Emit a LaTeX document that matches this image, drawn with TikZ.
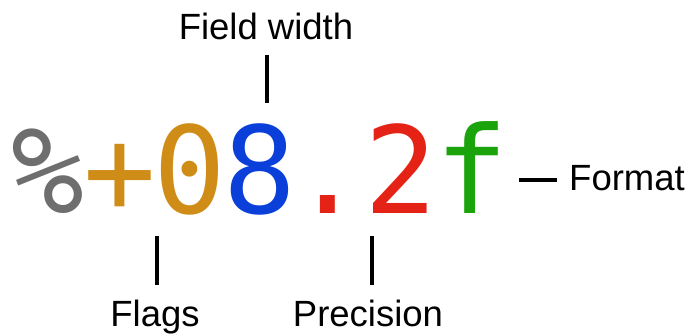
\documentclass[tikz,border=0pt]{standalone}
\usepackage{fontspec}
\setmainfont{Liberation Sans}
\newfontfamily\codefont{DejaVu Sans Mono}
\definecolor{cgray}{HTML}{6E6E6E}
\definecolor{corange}{HTML}{CF8C17}
\definecolor{cblue}{HTML}{0A3FD9}
\definecolor{cred}{HTML}{E52216}
\definecolor{cgreen}{HTML}{1AA30A}
\tikzset{
  code/.style={inner sep=0pt, anchor=base, font=\codefont\fontsize{121}{121}\selectfont},
  lbl/.style={inner sep=0pt, anchor=base, font=\fontsize{36.5}{36.5}\selectfont},
  tick/.style={line width=3.6pt, black}
}
\begin{document}
\begin{tikzpicture}[x=1pt,y=1pt]
\useasboundingbox (0,0) rectangle (690,336);
% code characters
\node[code, text=cgray]   (pct)   at (48,122)  {\%};
\node[code, text=corange] (plus)  at (120,122) {+};
\node[code, text=corange] (zero)  at (190,122) {0};
\node[code, text=cblue]   (eight) at (260,122) {8};
\node[code, text=cred]    (dot)   at (328,122) {.};
\node[code, text=cred]    (two)   at (401,122) {2};
\node[code, text=cgreen]  (eff)   at (472,122) {f};
% labels
\node[lbl] (fw)    at (266,296) {Field width};
\node[lbl] (flags) at (155,9)   {Flags};
\node[lbl] (prec)  at (368,9)   {Precision};
\node[lbl, anchor=base west] (fmt) at (569,145) {Format};
% tick ends
\coordinate (fwA) at (267,281);  \coordinate (fwB) at (267,233);
\coordinate (flA) at (157,100);  \coordinate (flB) at (157,51);
\coordinate (prA) at (372,100);  \coordinate (prB) at (372,51);
\coordinate (fmA) at (519,156);  \coordinate (fmB) at (557,156);
\draw[tick] (fwA) -- (fwB);
\draw[tick] (flA) -- (flB);
\draw[tick] (prA) -- (prB);
\draw[tick] (fmA) -- (fmB);
\end{tikzpicture}
\end{document}
